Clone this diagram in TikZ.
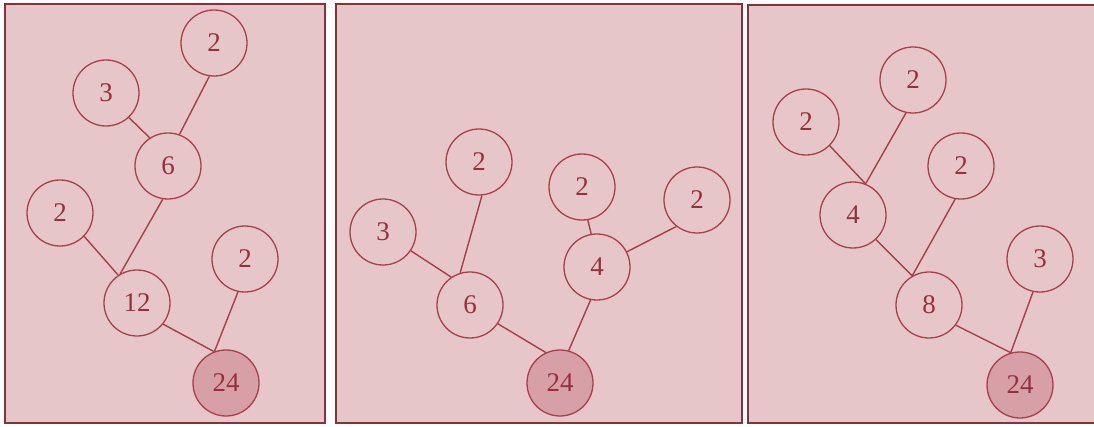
\documentclass[tikz,border=0pt]{standalone}
\usepackage{fontspec}
\setmainfont{Liberation Serif}
\usepackage{tikz}

\definecolor{panelpink}{RGB}{230,198,200}
\definecolor{lineRed}{RGB}{168,62,74}
\definecolor{rootpink}{RGB}{214,160,166}
\definecolor{textRed}{RGB}{150,48,60}

\begin{document}
\begin{tikzpicture}[x=0.03cm,y=-0.03cm,
    factor/.style={circle,draw=lineRed,line width=1.1pt,minimum size=1.98cm,inner sep=0pt,
                   text=textRed,font=\fontsize{23}{26}\selectfont},
    root/.style={factor,fill=rootpink},
    edge/.style={draw=lineRed,line width=1.2pt},
    panel/.style={fill=panelpink,draw=lineRed!80!black,line width=1.4pt}]
    \useasboundingbox (0,0) rectangle (1094,427);
    \fill[white] (0,0) rectangle (1094,427);
    
    % panels
    \draw[panel] (5,4) rectangle (325,423);
    \draw[panel] (336,4) rectangle (742,423);
    \fill[panelpink] (748,5) rectangle (1094,423);
    \draw[lineRed!80!black,line width=1.4pt] (1094,5) -- (748,5) -- (748,423) -- (1094,423);
    
    % 24 = 2 x 12 = 2 x 2 x 6 ...
    \node[factor] (a2t) at (214,43) {2};
    \node[factor] (a3) at (106,93) {3};
    \node[factor] (a6) at (168,166) {6};
    \node[factor] (a2l) at (60,213) {2};
    \node[factor] (a2r) at (245,259) {2};
    \node[factor] (a12) at (137,303) {12};
    \node[root] (a24) at (226,383) {24};
    
    \draw[edge] (a3.-47) -- (a6.123);
    \draw[edge] (a2t.-98) -- (a6.70);
    \draw[edge] (a6.-99) -- (a12.120);
    \draw[edge] (a2l.-44) -- (a12.124);
    \draw[edge] (a12.-39) -- (a24.111);
    \draw[edge] (a2r.-102) -- (a24.110);
    
    % 24 = 6 x 4
    \node[factor] (b2) at (479,162) {2};
    \node[factor] (b3) at (383,232) {3};
    \node[factor] (b6) at (470,305) {6};
    \node[factor] (b2m) at (582,187) {2};
    \node[factor] (b2r) at (697,200) {2};
    \node[factor] (b4) at (597,267) {4};
    \node[root] (b24) at (560,383) {24};
    
    \draw[edge] (b3.-34) -- (b6.124);
    \draw[edge] (b2.-85) -- (b6.107);
    \draw[edge] (b6.-34) -- (b24.115);
    \draw[edge] (b2m.-80) -- (b4.100);
    \draw[edge] (b2r.-128) -- (b4.27);
    \draw[edge] (b4.-101) -- (b24.75);
    
    % 24 = 8 x 3
    \node[factor] (c2t) at (913,80) {2};
    \node[factor] (c2l) at (806,122) {2};
    \node[factor] (c4) at (853,215) {4};
    \node[factor] (c2m) at (961,166) {2};
    \node[factor] (c3) at (1040,259) {3};
    \node[factor] (c8) at (929,305) {8};
    \node[root] (c24) at (1020,385) {24};
    
    \draw[edge] (c2l.-45) -- (c4.68);
    \draw[edge] (c2t.-102) -- (c4.68);
    \draw[edge] (c4.-47) -- (c8.120);
    \draw[edge] (c2m.-100) -- (c8.120);
    \draw[edge] (c8.-37) -- (c24.106);
    \draw[edge] (c3.-102) -- (c24.106);
    
\end{tikzpicture}
\end{document}
